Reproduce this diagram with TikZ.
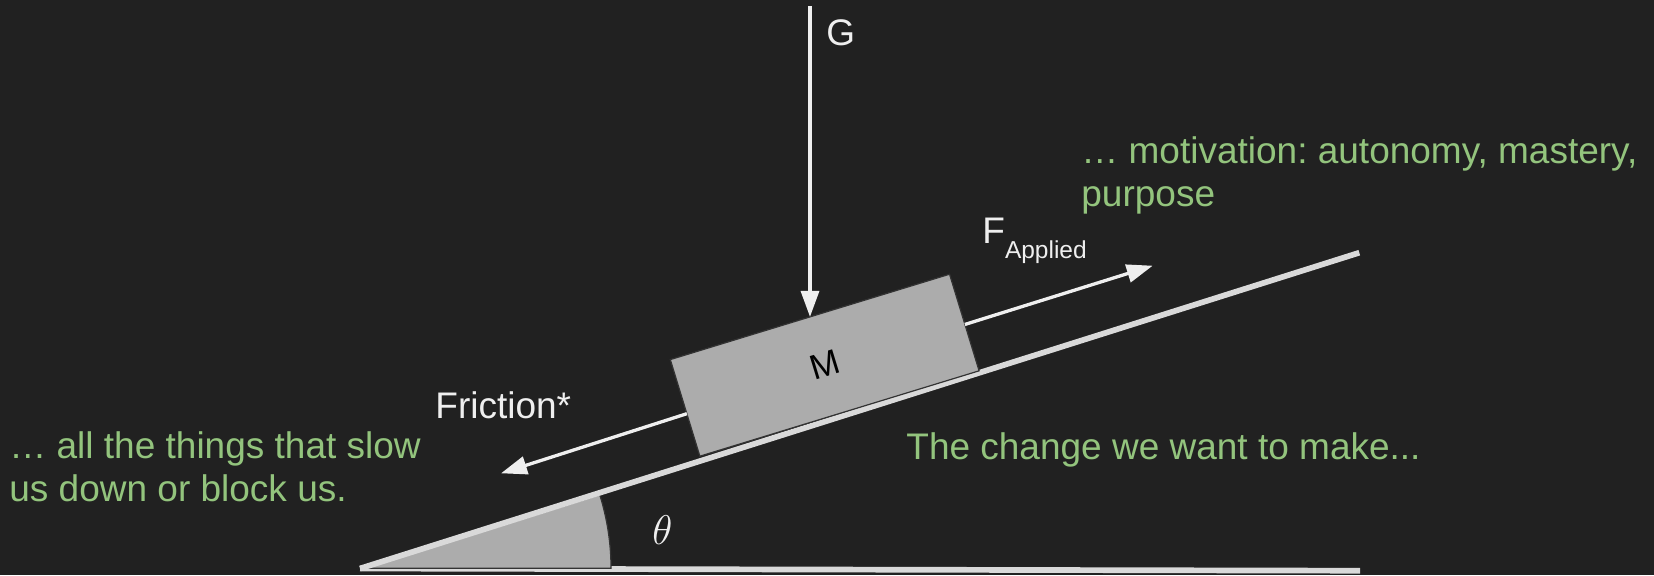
\documentclass[tikz,border=0pt]{standalone}
\usepackage{fontspec}
\setmainfont{Liberation Sans}
\usetikzlibrary{arrows.meta,calc}
\definecolor{bgc}{HTML}{212121}
\definecolor{greenc}{HTML}{93C47D}
\definecolor{linec}{HTML}{D9D9D9}
\definecolor{blockc}{HTML}{ACACAC}
\definecolor{edgec}{HTML}{333333}
\definecolor{whitec}{HTML}{EFEFEF}
\frenchspacing
\begin{document}
\begin{tikzpicture}[x=0.5pt,y=-0.5pt,
  force/.style={draw=whitec, line width=1.65pt, -{Triangle[length=13pt,width=9pt]}},
  txtlabel/.style={text=whitec, inner sep=0pt, anchor=base west, font=\fontsize{18.5}{22}\selectfont},
  txtnote/.style={text=greenc, inner sep=0pt, anchor=base west, align=left, font=\fontsize{18.5}{21.7}\selectfont},
  slope/.style={draw=linec, line width=2.85pt, line cap=butt},
  blockbox/.style={fill=blockc, draw=edgec, line width=0.6pt, rotate=17, minimum width=146pt, minimum height=50.5pt, inner sep=0pt, outer sep=0pt, text=black, font=\fontsize{17.5}{19}\selectfont}]
\useasboundingbox[fill=bgc] (0,0) rectangle (1654,575);

% ground and incline
\coordinate (v) at (360,568.5);
\coordinate (groundend) at (1360,570.7);
\coordinate (slopeend) at (1359.3,252.7);
\draw[slope] (v) -- (groundend);
\filldraw[fill=blockc, draw=edgec, line width=0.6pt] (365,568.3) -- ++(246,0) arc[start angle=0, end angle=-17.4, radius=246] -- cycle;
\draw[slope] (v) -- (slopeend);

% block
\node[blockbox] (block) at (824.7,365.2) {M};

% forces
\coordinate (gtop) at (810,6);
\draw[force] (gtop) -- (gtop |- block.north);
\node[txtlabel] (glabel) at (826,45) {G};

\coordinate (frtip) at (501,473.3);
\draw[force] ($(block.south west)!0.44!(block.north west)$) -- (frtip);
\node[txtlabel] (frlabel) at (435,418.3) {Friction*};

\coordinate (aptip) at (1152.7,265.7);
\draw[force] ($(block.south east)!0.48!(block.north east)$) -- (aptip);
\node[txtlabel] (aplabel) at (982,243.3) {F\raisebox{-7.5pt}{\fontsize{12.25}{14}\selectfont Applied}};

% angle
\node[text=whitec, inner sep=0pt, font=\fontsize{22}{24}\selectfont] (theta) at (662.5,530.5) {$\theta$};

% notes (base anchor = baseline of the last line)
\node[txtnote] (motiv) at (1081,206.4) {… motivation: autonomy, mastery,\\purpose};
\node[txtnote] (change) at (906,459) {The change we want to make...};
\node[txtnote] (slow) at (9,501.7) {… all the things that slow\\us down or block us.};
\end{tikzpicture}
\end{document}
